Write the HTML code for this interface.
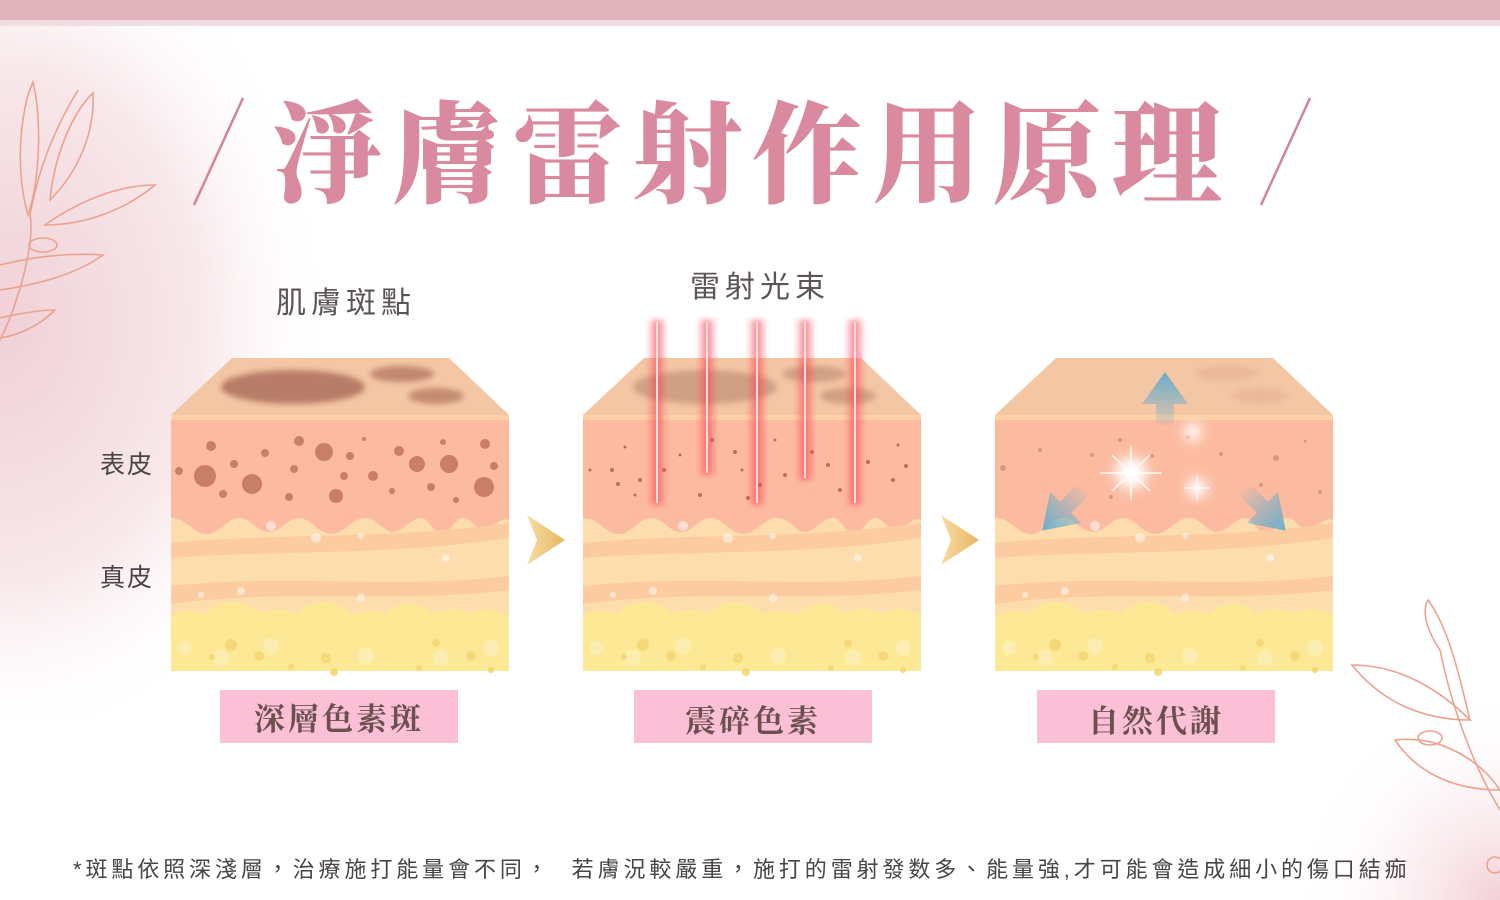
<!DOCTYPE html>
<html><head><meta charset="utf-8"><style>
html,body{margin:0;padding:0;width:1500px;height:900px;overflow:hidden;background:#fff}
.t{position:absolute;white-space:nowrap}
</style></head><body>
<svg width="1500" height="900" style="position:absolute;left:0;top:0">
<defs>
<radialGradient id="bgL" cx="0" cy="0.45" r="0.6"><stop offset="0" stop-color="#efd0d6"/><stop offset="0.6" stop-color="#f8e8eb"/><stop offset="1" stop-color="#fff" stop-opacity="0"/></radialGradient>
<radialGradient id="bgR" cx="1" cy="1" r="0.6"><stop offset="0" stop-color="#f3cfd6"/><stop offset="1" stop-color="#fff" stop-opacity="0"/></radialGradient>
<linearGradient id="chev" x1="0" x2="1"><stop offset="0" stop-color="#f6dca8"/><stop offset="1" stop-color="#e8b65a"/></linearGradient>
<linearGradient id="laser" x1="0" x2="1"><stop offset="0" stop-color="#ff5a6a" stop-opacity="0"/><stop offset="0.5" stop-color="#ff3a4a"/><stop offset="1" stop-color="#ff5a6a" stop-opacity="0"/></linearGradient>
<linearGradient id="arr" x1="0" y1="0" x2="0" y2="1"><stop offset="0" stop-color="#5aaad0"/><stop offset="1" stop-color="#5aaad0" stop-opacity="0.1"/></linearGradient>
<filter id="bl"><feGaussianBlur stdDeviation="3"/></filter>
<filter id="bl2"><feGaussianBlur stdDeviation="6"/></filter>
<g id="block">
<polygon points="61,0 278,0 338,57 0,57" fill="#f3c6a4"/>
<rect x="0" y="57" width="338" height="5" fill="#fdd0a6"/>
<rect x="0" y="62" width="338" height="251" fill="#fddcae"/>
<path d="M0,62 H338 V162 C330,158 322,170 314,172 C305,172 300,160 292,160 C284,160 280,175 270,175 C262,175 258,160 250,160 C240,160 232,174 222,174 C212,174 205,158 192,160 C180,162 172,176 160,176 C148,176 140,160 128,160 C116,160 110,174 98,174 C86,174 80,160 68,160 C56,160 48,176 36,176 C22,176 16,160 0,160 Z" fill="#fcbba0"/>
<path d="M0,185 C100,175 220,182 338,165 V180 C220,198 100,192 0,200 Z" fill="#fccca0"/>
<path d="M0,228 C120,215 220,232 338,218 V232 C220,246 120,230 0,246 Z" fill="#fccca0"/>
<path d="M0,258 C10,250 25,252 35,256 C45,240 75,240 90,256 C100,250 115,250 125,256 C140,240 165,240 180,256 C195,252 205,252 215,256 C225,242 250,242 262,256 C275,248 290,250 300,256 C310,248 325,250 338,258 V313 H0 Z" fill="#fde995"/>
<g fill="#fcf0b8" opacity="0.8"><circle cx="14" cy="290" r="7"/><circle cx="50" cy="300" r="8"/><circle cx="100" cy="288" r="8"/><circle cx="195" cy="298" r="8"/><circle cx="270" cy="300" r="8"/><circle cx="320" cy="290" r="8"/></g>
<g fill="#f5d978"><circle cx="60" cy="287" r="6"/><circle cx="88" cy="298" r="5"/><circle cx="41" cy="299" r="3"/><circle cx="120" cy="309" r="3"/><circle cx="155" cy="300" r="5"/><circle cx="163" cy="314" r="4"/><circle cx="248" cy="310" r="3"/><circle cx="265" cy="285" r="4"/><circle cx="300" cy="298" r="5"/><circle cx="320" cy="312" r="3"/></g>
<g fill="#fff" opacity="0.5"><circle cx="100" cy="168" r="5"/><circle cx="145" cy="180" r="5"/><circle cx="190" cy="178" r="3"/><circle cx="275" cy="200" r="4"/><circle cx="30" cy="237" r="3"/><circle cx="70" cy="233" r="4"/><circle cx="190" cy="240" r="4"/></g>
</g>
</defs>
<rect width="1500" height="900" fill="#fff"/>
<rect x="0" y="0" width="560" height="720" fill="url(#bgL)"/>
<rect x="1150" y="540" width="350" height="360" fill="url(#bgR)"/>
<rect x="0" y="0" width="1500" height="20" fill="#e1b3bd"/>
<rect x="0" y="20" width="1500" height="6" fill="#f2dde2"/>
<g fill="none" stroke="#eca38e" stroke-width="1.6">
<path d="M0,340 C20,300 35,240 30,215 C40,160 60,120 78,90"/>
<path d="M28,215 C15,170 20,110 33,82 C42,120 40,180 28,215Z"/>
<path d="M50,200 C55,150 75,110 93,93 C95,130 80,170 50,200Z"/>
<path d="M45,225 C80,200 120,185 155,185 C125,210 85,225 45,225Z"/>
<path d="M0,265 C40,255 75,253 103,255 C75,275 35,285 0,290"/>
<path d="M0,318 C25,312 45,310 55,310 C40,325 20,335 0,338"/>
<ellipse cx="43" cy="245" rx="14" ry="7"/>
</g>
<g fill="none" stroke="#eca38e" stroke-width="1.6">
<path d="M1500,810 C1470,760 1450,700 1440,650"/>
<path d="M1440,650 C1420,620 1425,605 1428,600 C1450,630 1460,680 1470,720"/>
<path d="M1352,665 C1400,665 1440,690 1470,720 C1420,720 1380,700 1352,665Z"/>
<path d="M1395,740 C1440,735 1480,760 1500,790 C1450,790 1415,770 1395,740Z"/>
<ellipse cx="1430" cy="738" rx="12" ry="7"/>
<circle cx="1495" cy="865" r="8"/>
</g>
<line x1="243" y1="98" x2="194" y2="205" stroke="#d58397" stroke-width="2.5"/>
<line x1="1310" y1="98" x2="1261" y2="205" stroke="#d58397" stroke-width="2.5"/>
<use href="#block" x="171" y="358"/>
<use href="#block" x="583" y="358"/>
<use href="#block" x="995" y="358"/>
<g filter="url(#bl)" fill="#b87d68"><ellipse cx="293" cy="387" rx="72" ry="17"/><ellipse cx="402" cy="374" rx="32" ry="8" opacity="0.85"/><ellipse cx="436" cy="396" rx="28" ry="8" opacity="0.8"/></g>
<g fill="#c97e6a">
<circle cx="179" cy="471" r="4"/><circle cx="205" cy="476" r="11"/><circle cx="211" cy="446" r="5"/><circle cx="234" cy="464" r="4"/><circle cx="223" cy="494" r="4"/><circle cx="252" cy="484" r="10"/><circle cx="265" cy="453" r="4"/><circle cx="289" cy="497" r="4"/><circle cx="294" cy="469" r="4"/><circle cx="299" cy="441" r="5"/><circle cx="324" cy="452" r="9"/><circle cx="336" cy="496" r="7"/><circle cx="344" cy="476" r="4"/><circle cx="350" cy="456" r="4"/><circle cx="364" cy="439" r="2"/><circle cx="373" cy="476" r="5"/><circle cx="392" cy="491" r="3"/><circle cx="399" cy="451" r="5"/><circle cx="417" cy="464" r="8"/><circle cx="431" cy="487" r="4"/><circle cx="443" cy="442" r="3"/><circle cx="449" cy="464" r="9"/><circle cx="456" cy="500" r="3"/><circle cx="484" cy="487" r="10"/><circle cx="485" cy="444" r="5"/><circle cx="494" cy="466" r="4"/>
</g>
<g filter="url(#bl)" fill="#c09078" opacity="0.7"><ellipse cx="705" cy="387" rx="72" ry="17"/><ellipse cx="814" cy="374" rx="32" ry="8"/><ellipse cx="848" cy="396" rx="28" ry="8"/></g>
<g fill="#b8705e">
<circle cx="612" cy="470" r="2"/><circle cx="618" cy="484" r="2"/><circle cx="625" cy="447" r="1.5"/><circle cx="640" cy="480" r="2"/><circle cx="664" cy="470" r="2"/><circle cx="680" cy="455" r="1.5"/><circle cx="700" cy="495" r="2"/><circle cx="712" cy="440" r="2"/><circle cx="735" cy="452" r="2"/><circle cx="742" cy="470" r="1.5"/><circle cx="748" cy="498" r="2"/><circle cx="760" cy="485" r="2"/><circle cx="775" cy="440" r="1.5"/><circle cx="785" cy="475" r="2"/><circle cx="812" cy="452" r="2"/><circle cx="828" cy="465" r="2"/><circle cx="840" cy="490" r="2"/><circle cx="868" cy="462" r="2"/><circle cx="893" cy="480" r="2"/><circle cx="898" cy="445" r="1.5"/><circle cx="906" cy="466" r="2"/><circle cx="635" cy="495" r="1.5"/><circle cx="590" cy="470" r="1.5"/>
</g>
<g>
<rect x="647" y="320" width="20" height="185" fill="url(#laser)" opacity="0.7" filter="url(#bl)"/>
<rect x="697" y="320" width="20" height="155" fill="url(#laser)" opacity="0.7" filter="url(#bl)"/>
<rect x="747" y="320" width="20" height="185" fill="url(#laser)" opacity="0.7" filter="url(#bl)"/>
<rect x="795" y="320" width="20" height="160" fill="url(#laser)" opacity="0.7" filter="url(#bl)"/>
<rect x="845" y="320" width="20" height="185" fill="url(#laser)" opacity="0.7" filter="url(#bl)"/>
<g stroke="#ffe0e0" stroke-width="2"><line x1="657" y1="322" x2="657" y2="503"/><line x1="707" y1="322" x2="707" y2="473"/><line x1="757" y1="322" x2="757" y2="503"/><line x1="805" y1="322" x2="805" y2="478"/><line x1="855" y1="322" x2="855" y2="503"/></g>
</g>
<g filter="url(#bl)" fill="#e8b494" opacity="0.7"><ellipse cx="1227" cy="373" rx="32" ry="8"/><ellipse cx="1260" cy="396" rx="28" ry="8"/></g>
<g fill="#c98a78" opacity="0.7"><circle cx="1003" cy="468" r="3"/><circle cx="1040" cy="450" r="2"/><circle cx="1092" cy="455" r="2"/><circle cx="1120" cy="440" r="2"/><circle cx="1111" cy="497" r="2"/><circle cx="1124" cy="478" r="3"/><circle cx="1152" cy="456" r="2"/><circle cx="1188" cy="437" r="2"/><circle cx="1221" cy="454" r="2"/><circle cx="1261" cy="485" r="2"/><circle cx="1276" cy="458" r="3"/><circle cx="1305" cy="441" r="1.5"/><circle cx="1320" cy="492" r="2"/></g>
<g filter="url(#bl2)" fill="#fff"><circle cx="1131" cy="473" r="16"/><circle cx="1197" cy="488" r="10"/><circle cx="1193" cy="432" r="9"/></g>
<g stroke="#fff" stroke-width="1.5" opacity="0.9"><line x1="1100" y1="473" x2="1162" y2="473"/><line x1="1131" y1="445" x2="1131" y2="500"/><line x1="1112" y1="455" x2="1150" y2="491"/><line x1="1150" y1="455" x2="1112" y2="491"/><line x1="1185" y1="488" x2="1210" y2="488"/><line x1="1197" y1="476" x2="1197" y2="500"/></g>
<g fill="url(#arr)" opacity="0.9">
<polygon points="1165,372 1142,404 1156,404 1156,425 1174,425 1174,404 1188,404"/>
<g transform="translate(1060,513) rotate(-135)"><polygon points="0,-25 -22,8 -8,8 -8,32 8,32 8,8 22,8"/></g>
<g transform="translate(1268,513) rotate(135)"><polygon points="0,-25 -22,8 -8,8 -8,32 8,32 8,8 22,8"/></g>
</g>
<polygon points="527,515 565,540 527,565 537,540" fill="url(#chev)"/>
<polygon points="941,515 979,540 941,565 951,540" fill="url(#chev)"/>
<rect x="220" y="690" width="238" height="53" fill="#fbbfd6"/>
<rect x="634" y="690" width="238" height="53" fill="#fbbfd6"/>
<rect x="1037" y="690" width="238" height="53" fill="#fbbfd6"/>
</svg>
<div class="t" style="left:272px;top:82px;font-family:'Noto Serif CJK SC','Liberation Serif',serif;font-weight:900;font-size:110px;line-height:130px;color:#d98a9e;letter-spacing:10px">淨膚雷射作用原理</div>
<div class="t" style="left:276px;top:286px;font-family:'Liberation Sans','Noto Sans CJK TC',sans-serif;font-size:30px;line-height:36px;color:#5d5555;letter-spacing:5px">肌膚斑點</div>
<div class="t" style="left:690px;top:270px;font-family:'Liberation Sans','Noto Sans CJK TC',sans-serif;font-size:30px;line-height:36px;color:#5d5555;letter-spacing:5px">雷射光束</div>
<div class="t" style="left:100px;top:450px;font-family:'Liberation Sans','Noto Sans CJK TC',sans-serif;font-size:25px;line-height:30px;color:#4a4545;letter-spacing:2px">表皮</div>
<div class="t" style="left:100px;top:563px;font-family:'Liberation Sans','Noto Sans CJK TC',sans-serif;font-size:25px;line-height:30px;color:#4a4545;letter-spacing:2px">真皮</div>
<div class="t" style="left:220px;top:690px;width:238px;text-align:center;font-family:'Noto Serif CJK SC','Liberation Serif',serif;font-weight:700;font-size:31px;line-height:53px;color:#6b5050;letter-spacing:3px">深層色素斑</div>
<div class="t" style="left:634px;top:692px;width:238px;text-align:center;font-family:'Noto Serif CJK SC','Liberation Serif',serif;font-weight:700;font-size:31px;line-height:53px;color:#6b5050;letter-spacing:3px">震碎色素</div>
<div class="t" style="left:1037px;top:692px;width:238px;text-align:center;font-family:'Noto Serif CJK SC','Liberation Serif',serif;font-weight:700;font-size:31px;line-height:53px;color:#6b5050;letter-spacing:3px">自然代謝</div>
<div class="t" style="left:73px;top:855px;font-family:'Liberation Sans','Noto Sans CJK TC',sans-serif;font-size:22px;line-height:30px;color:#4a4545;letter-spacing:3.9px">*斑點依照深淺層，治療施打能量會不同，&nbsp; 若膚況較嚴重，施打的雷射發数多、能量強,才可能會造成細小的傷口結痂</div>
</body></html>
